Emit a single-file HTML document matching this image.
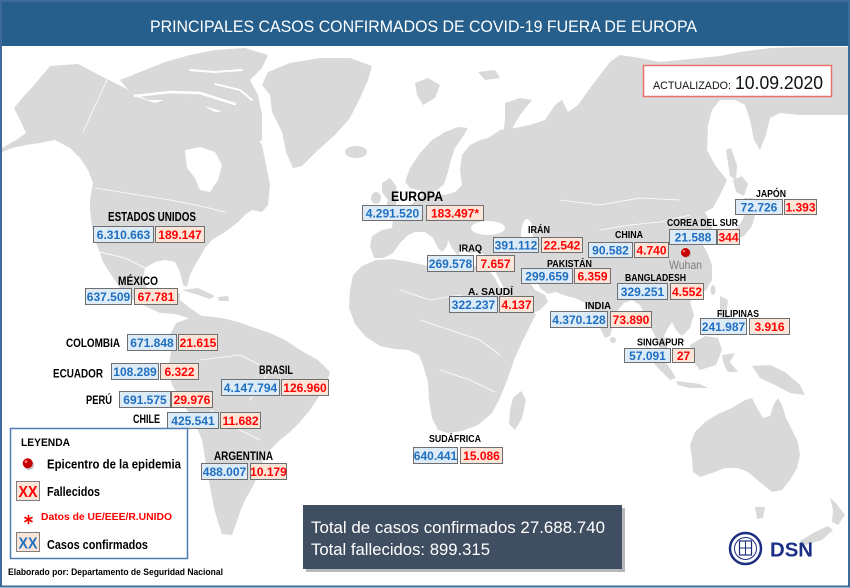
<!DOCTYPE html>
<html><head><meta charset="utf-8">
<style>
html,body{margin:0;padding:0;background:#fff;}
body{width:850px;height:588px;overflow:hidden;}
svg{display:block;}
.lbl{font-family:"Liberation Sans",Arial,sans-serif;font-weight:bold;fill:#000;}
.nb{font-family:"Liberation Sans",Arial,sans-serif;font-weight:bold;font-size:12px;fill:#1f6fc1;text-anchor:middle;}
.nr{font-family:"Liberation Sans",Arial,sans-serif;font-weight:bold;font-size:12px;fill:#ff0000;text-anchor:middle;}
.bb{fill:#ddebf7;stroke:#6f6f6f;stroke-width:1;}
.br{fill:#fbe5d9;stroke:#6f6f6f;stroke-width:1;}
.land{fill:#d9d9d9;}
.lg{font-family:"Liberation Sans",Arial,sans-serif;font-weight:bold;fill:#000;}
</style></head>
<body>
<svg width="850" height="588" viewBox="0 0 850 588" xmlns="http://www.w3.org/2000/svg">
<rect x="0" y="0" width="850" height="588" fill="#fff"/>

<!-- ============ MAP ============ -->
<g class="land">
<!-- North America -->
<path d="M50,66 L78,64 L105,78 L125,88 L140,98 L155,103 L170,98 L185,102 L200,104 L215,112 L228,112 L242,120 L252,132 L262,145 L266,165 L270,185 L268,205 L262,212 L252,210 L245,215 L238,222 L225,232 L212,240 L205,248 L200,257 L195,265 L190,275 L187,287 L183,285 L180,272 L175,262 L165,260 L155,262 L145,268 L143,278 L147,288 L158,296 L168,300 L172,293 L180,293 L180,300 L190,308 L200,315 L212,320 L210,326 L200,325 L188,318 L175,314 L160,313 L145,306 L133,300 L120,288 L110,273 L103,262 L100,253 L95,240 L92,227 L90,210 L90,200 L93,183 L88,170 L80,158 L70,148 L55,140 L40,143 L26,145 L12,148 L2,152 L2,148 L16,140 L26,133 L20,120 L14,108 L24,96 L35,84 Z"/>
<!-- Arctic archipelago -->
<path d="M120,80 L145,70 L165,62 L190,55 L215,50 L245,48 L268,55 L262,68 L250,80 L258,95 L262,115 L262,140 L255,145 L245,130 L232,118 L218,110 L200,105 L185,102 L165,100 L148,100 L130,92 Z"/>
<!-- Greenland -->
<path d="M268,72 L290,63 L320,58 L350,58 L372,66 L368,80 L360,98 L350,118 L335,135 L318,150 L302,166 L293,168 L286,152 L282,132 L272,112 L270,95 L262,85 Z"/>
<ellipse cx="356" cy="152" rx="11" ry="6"/>
<!-- Cuba etc -->
<path d="M182,290 L198,288 L215,296 L210,299 L195,294 Z"/>
<path d="M218,297 L228,296 L229,301 L219,301 Z"/>
<!-- South America -->
<path d="M176,323 L190,318 L205,316 L222,318 L238,322 L255,328 L270,333 L285,340 L300,350 L318,360 L330,372 L326,385 L318,398 L310,410 L300,422 L290,432 L280,440 L270,450 L262,462 L258,475 L252,488 L245,500 L240,512 L236,524 L232,535 L222,534 L218,522 L214,508 L211,492 L208,475 L205,458 L202,440 L197,428 L188,412 L180,398 L172,385 L168,372 L170,358 L172,345 L170,335 Z"/>
<!-- Svalbard, Novaya Zemlya -->
<path d="M415,83 L428,78 L440,85 L435,98 L423,105 L417,95 Z"/>
<path d="M505,103 L520,98 L532,100 L520,115 L510,132 L503,135 L505,120 Z"/>
<path d="M478,72 L495,70 L500,78 L485,80 Z"/>
<!-- UK / Ireland -->
<path d="M382,183 L390,178 L396,186 L398,198 L395,207 L385,210 L388,200 L382,192 Z"/>
<ellipse cx="376" cy="198" rx="5" ry="6"/>
<!-- Scandinavia -->
<path d="M405,182 L410,168 L420,153 L432,140 L445,132 L458,127 L468,128 L462,138 L455,148 L451,160 L448,172 L444,184 L436,191 L428,192 L418,190 L410,188 Z"/>
<!-- Eurasia -->
<path d="M420,198 L425,190 L432,195 L445,195 L455,192 L462,185 L460,170 L462,155 L470,145 L480,140 L488,138 L500,130 L515,128 L530,125 L545,120 L555,105 L562,100 L568,112 L578,105 L590,88 L600,75 L610,62 L620,55 L640,58 L660,62 L680,60 L700,58 L720,56 L740,52 L770,48 L800,47 L848,47 L848,115 L800,115 L780,113 L770,118 L766,135 L760,150 L754,140 L750,120 L745,105 L735,100 L720,100 L712,110 L708,125 L707,150 L715,165 L727,180 L720,195 L713,208 L705,212 L710,222 L714,235 L708,242 L702,232 L699,228 L700,240 L707,252 L712,265 L712,280 L706,290 L696,296 L690,302 L694,315 L690,328 L682,336 L676,330 L672,322 L668,328 L664,336 L668,350 L668,358 L662,356 L658,342 L652,330 L646,318 L640,305 L632,300 L624,303 L618,310 L614,322 L610,336 L605,338 L600,328 L593,315 L585,303 L575,298 L566,296 L556,292 L548,294 L540,288 L535,278 L528,280 L535,290 L545,295 L548,302 L540,310 L525,316 L518,318 L512,305 L505,290 L497,275 L490,265 L488,256 L478,252 L468,253 L462,247 L458,256 L452,248 L448,240 L447,246 L442,252 L438,248 L433,238 L425,232 L415,232 L408,235 L400,243 L393,253 L384,258 L374,258 L370,246 L372,236 L382,230 L392,228 L393,218 L400,210 L410,205 Z"/>
<!-- Africa -->
<path d="M350,290 L353,275 L362,266 L376,260 L392,259 L410,262 L428,266 L445,268 L462,266 L478,266 L487,268 L495,278 L502,292 L509,303 L517,312 L530,312 L536,314 L530,326 L522,342 L514,360 L508,378 L500,398 L492,413 L478,425 L462,431 L448,433 L438,430 L432,418 L429,400 L428,382 L423,365 L419,355 L408,350 L395,349 L380,346 L366,337 L355,324 L349,308 Z"/>
<path d="M513,398 L521,391 L526,400 L522,418 L515,430 L509,424 L510,410 Z"/>
<!-- Asia islands -->
<circle cx="613" cy="340" r="3"/>
<path d="M645,345 L655,352 L668,365 L676,378 L670,380 L658,368 L648,356 Z"/>
<path d="M676,381 L700,384 L708,388 L690,388 L678,385 Z"/>
<path d="M690,345 L705,336 L718,338 L722,350 L716,365 L700,370 L692,360 Z"/>
<path d="M722,355 L735,353 L730,362 L738,372 L728,372 L724,365 Z"/>
<path d="M720,296 L728,300 L726,315 L735,325 L738,335 L728,333 L720,318 Z"/>
<path d="M752,366 L770,365 L785,372 L800,385 L805,395 L790,393 L775,385 L760,378 Z"/>
<ellipse cx="713" cy="290" rx="2.5" ry="5"/>
<path d="M733,180 L742,176 L748,184 L744,196 L736,192 Z"/>
<path d="M744,198 L752,198 L756,212 L752,226 L744,236 L734,240 L730,234 L740,224 L746,212 Z"/>
<path d="M726,150 L731,148 L737,165 L736,180 L730,176 Z"/>
<!-- Australia -->
<path d="M690,445 L695,432 L705,422 L718,414 L732,408 L745,400 L752,398 L757,408 L763,418 L770,416 L774,404 L778,398 L782,405 L786,418 L792,430 L798,442 L800,455 L797,468 L790,480 L782,490 L772,492 L762,484 L755,478 L748,472 L738,468 L725,468 L712,473 L700,477 L693,472 L692,458 Z"/>
<path d="M755,507 L765,507 L763,518 L757,519 Z"/>
<path d="M830,498 L836,503 L845,515 L838,525 L832,522 L833,510 Z"/>
<path d="M828,526 L833,530 L822,540 L805,545 L800,541 L815,532 Z"/>
</g>
<!-- water bodies / channels -->
<g fill="#fff">
<path d="M185,150 L200,147 L215,152 L222,165 L218,180 L210,192 L200,190 L195,178 L187,168 Z"/>
<ellipse cx="488" cy="228" rx="17" ry="7"/>
<ellipse cx="527" cy="235" rx="6" ry="16"/>
</g>
<g stroke="#fff" fill="none" stroke-linecap="round">
<path d="M135,96 L170,92 L200,93 L235,104" stroke-width="2.5"/>
<path d="M190,70 L215,72 L242,70" stroke-width="2"/>
<path d="M215,84 L240,90 L252,100" stroke-width="1.8"/>
<path d="M488,258 L500,285 L513,309" stroke-width="2"/>
<g stroke-width="0.8">
<path d="M107,80 L83,132"/>
<path d="M95,188 L170,200 L205,207 L225,212"/>
<path d="M100,252 L125,258 L145,268"/>
<path d="M600,230 L630,225 L660,222 L690,215"/>
<path d="M560,200 L600,205 L640,198 L680,200"/>
<path d="M400,290 L430,300 L460,295 L480,310"/>
<path d="M420,320 L450,330 L480,340 L500,355"/>
<path d="M440,370 L470,380 L495,392"/>
<path d="M200,360 L240,355 L270,370 L250,400"/>
<path d="M210,410 L240,430 L260,440"/>
</g>
</g>

<!-- ============ TITLE ============ -->
<rect x="0" y="0" width="850" height="46" fill="#265f8b"/>
<text x="150" y="32" textLength="547" lengthAdjust="spacingAndGlyphs" font-family="'Liberation Sans',Arial,sans-serif" font-size="17" fill="#fff">PRINCIPALES CASOS CONFIRMADOS DE COVID-19 FUERA DE EUROPA</text>

<!-- frame -->
<rect x="1" y="1" width="848" height="585.5" fill="none" stroke="#3d6b97" stroke-width="2"/>

<!-- ACTUALIZADO -->
<rect x="643.5" y="65.5" width="188" height="31" fill="#fff" stroke="#e8726a" stroke-width="1.5"/>
<text x="653" y="89" textLength="78" lengthAdjust="spacingAndGlyphs" font-family="'Liberation Sans',Arial,sans-serif" font-size="11" fill="#111">ACTUALIZADO:</text>
<text x="735" y="89" textLength="88" lengthAdjust="spacingAndGlyphs" font-family="'Liberation Sans',Arial,sans-serif" font-size="18" fill="#111">10.09.2020</text>

<!-- ============ LABELS ============ -->
<g class="lbl">
<text x="108" y="221" font-size="12.5" textLength="88" lengthAdjust="spacingAndGlyphs">ESTADOS UNIDOS</text>
<text x="118" y="285" font-size="11.5" textLength="40" lengthAdjust="spacingAndGlyphs">MÉXICO</text>
<text x="66" y="347" font-size="11.5" textLength="54" lengthAdjust="spacingAndGlyphs">COLOMBIA</text>
<text x="53" y="377.5" font-size="11.5" textLength="50" lengthAdjust="spacingAndGlyphs">ECUADOR</text>
<text x="259" y="374" font-size="11.5" textLength="34" lengthAdjust="spacingAndGlyphs">BRASIL</text>
<text x="86" y="404" font-size="11.5" textLength="26" lengthAdjust="spacingAndGlyphs">PERÚ</text>
<text x="133" y="423" font-size="11.5" textLength="27" lengthAdjust="spacingAndGlyphs">CHILE</text>
<text x="214" y="460" font-size="11.5" textLength="59" lengthAdjust="spacingAndGlyphs">ARGENTINA</text>
<text x="429" y="442" font-size="10.5" textLength="52" lengthAdjust="spacingAndGlyphs">SUDÁFRICA</text>
<text x="391" y="201" font-size="14" textLength="52" lengthAdjust="spacingAndGlyphs">EUROPA</text>
<text x="528" y="233" font-size="10.5" textLength="22" lengthAdjust="spacingAndGlyphs">IRÁN</text>
<text x="459" y="251.5" font-size="10.5" textLength="23" lengthAdjust="spacingAndGlyphs">IRAQ</text>
<text x="547" y="267" font-size="10.5" textLength="45" lengthAdjust="spacingAndGlyphs">PAKISTÁN</text>
<text x="468" y="295" font-size="10.5" textLength="45" lengthAdjust="spacingAndGlyphs">A. SAUDÍ</text>
<text x="615" y="238" font-size="10.5" textLength="28" lengthAdjust="spacingAndGlyphs">CHINA</text>
<text x="667" y="226" font-size="10.5" textLength="71" lengthAdjust="spacingAndGlyphs">COREA DEL SUR</text>
<text x="625" y="281" font-size="10.5" textLength="61" lengthAdjust="spacingAndGlyphs">BANGLADESH</text>
<text x="585" y="309" font-size="10.5" textLength="26" lengthAdjust="spacingAndGlyphs">INDIA</text>
<text x="717" y="317" font-size="10.5" textLength="42" lengthAdjust="spacingAndGlyphs">FILIPINAS</text>
<text x="637" y="345.5" font-size="10.5" textLength="47" lengthAdjust="spacingAndGlyphs">SINGAPUR</text>
<text x="756" y="197" font-size="10.5" textLength="30" lengthAdjust="spacingAndGlyphs">JAPÓN</text>
</g>

<!-- ============ BOXES ============ -->
<g>
<!-- US -->
<rect class="bb" x="93.5" y="226.5" width="60" height="16"/><text class="nb" x="123.5" y="239">6.310.663</text>
<rect class="br" x="155.5" y="226.5" width="49" height="16"/><text class="nr" x="180" y="239">189.147</text>
<!-- MX -->
<rect class="bb" x="85.5" y="288.5" width="46" height="16"/><text class="nb" x="108.5" y="301">637.509</text>
<rect class="br" x="134.5" y="288.5" width="43" height="16"/><text class="nr" x="156" y="301">67.781</text>
<!-- CO -->
<rect class="bb" x="127.5" y="334.5" width="49" height="16"/><text class="nb" x="152" y="347">671.848</text>
<rect class="br" x="178.5" y="334.5" width="39" height="16"/><text class="nr" x="198" y="347">21.615</text>
<!-- EC -->
<rect class="bb" x="111.5" y="363.5" width="47" height="16"/><text class="nb" x="135" y="376">108.289</text>
<rect class="br" x="160.5" y="363.5" width="38" height="16"/><text class="nr" x="179.5" y="376">6.322</text>
<!-- BR -->
<rect class="bb" x="221.5" y="379.5" width="58" height="16"/><text class="nb" x="250.5" y="392">4.147.794</text>
<rect class="br" x="281.5" y="379.5" width="47" height="16"/><text class="nr" x="305" y="392">126.960</text>
<!-- PE -->
<rect class="bb" x="119.5" y="391.5" width="51" height="16"/><text class="nb" x="145" y="404">691.575</text>
<rect class="br" x="171.5" y="391.5" width="41" height="16"/><text class="nr" x="192" y="404">29.976</text>
<!-- CL -->
<rect class="bb" x="167.5" y="412.5" width="51" height="16"/><text class="nb" x="193" y="425">425.541</text>
<rect class="br" x="220.5" y="412.5" width="40" height="16"/><text class="nr" x="240.5" y="425">11.682</text>
<!-- AR -->
<rect class="bb" x="201.5" y="463.5" width="46" height="16"/><text class="nb" x="224.5" y="476">488.007</text>
<rect class="br" x="250.5" y="463.5" width="36" height="16"/><text class="nr" x="268.5" y="476">10.179</text>
<!-- ZA -->
<rect class="bb" x="413.5" y="447.5" width="44" height="16"/><text class="nb" x="435.5" y="460">640.441</text>
<rect class="br" x="460.5" y="447.5" width="42" height="16"/><text class="nr" x="481.5" y="460">15.086</text>
<!-- EU -->
<rect class="bb" x="362.5" y="205.5" width="60" height="15"/><text class="nb" x="392.5" y="217.5">4.291.520</text>
<rect class="br" x="426.5" y="205.5" width="57" height="15"/><text class="nr" x="455" y="217.5">183.497*</text>
<!-- IR -->
<rect class="bb" x="493.5" y="237.5" width="45" height="15"/><text class="nb" x="516" y="249.5">391.112</text>
<rect class="br" x="541.5" y="237.5" width="41" height="15"/><text class="nr" x="562" y="249.5">22.542</text>
<!-- IQ -->
<rect class="bb" x="427.5" y="255.5" width="46" height="16"/><text class="nb" x="450.5" y="268">269.578</text>
<rect class="br" x="476.5" y="255.5" width="38" height="16"/><text class="nr" x="495.5" y="268">7.657</text>
<!-- PK -->
<rect class="bb" x="521.5" y="268.5" width="51" height="15"/><text class="nb" x="547" y="280.5">299.659</text>
<rect class="br" x="574.5" y="268.5" width="36" height="15"/><text class="nr" x="592.5" y="280.5">6.359</text>
<!-- SA -->
<rect class="bb" x="449.5" y="296.5" width="48" height="16"/><text class="nb" x="473.5" y="309">322.237</text>
<rect class="br" x="499.5" y="296.5" width="34" height="16"/><text class="nr" x="516.5" y="309">4.137</text>
<!-- CN -->
<rect class="bb" x="588.5" y="242.5" width="44" height="15"/><text class="nb" x="610.5" y="254.5">90.582</text>
<rect class="br" x="634.5" y="242.5" width="34" height="15"/><text class="nr" x="651.5" y="254.5">4.740</text>
<!-- KR -->
<rect class="bb" x="669.5" y="229.5" width="47" height="15"/><text class="nb" x="693" y="241.5">21.588</text>
<rect class="br" x="717.5" y="229.5" width="22" height="15"/><text class="nr" x="728.5" y="241.5">344</text>
<!-- BD -->
<rect class="bb" x="617.5" y="283.5" width="50" height="16"/><text class="nb" x="642.5" y="296">329.251</text>
<rect class="br" x="670.5" y="283.5" width="33" height="16"/><text class="nr" x="687" y="296">4.552</text>
<!-- IN -->
<rect class="bb" x="550.5" y="311.5" width="57" height="16"/><text class="nb" x="579" y="324">4.370.128</text>
<rect class="br" x="610.5" y="311.5" width="41" height="16"/><text class="nr" x="631" y="324">73.890</text>
<!-- PH -->
<rect class="bb" x="700.5" y="318.5" width="46" height="16"/><text class="nb" x="723.5" y="331">241.987</text>
<rect class="br" x="749.5" y="318.5" width="40" height="16"/><text class="nr" x="769.5" y="331">3.916</text>
<!-- SG -->
<rect class="bb" x="624.5" y="348.5" width="46" height="14"/><text class="nb" x="647.5" y="360">57.091</text>
<rect class="br" x="672.5" y="348.5" width="22" height="14"/><text class="nr" x="683.5" y="360">27</text>
<!-- JP -->
<rect class="bb" x="735.5" y="199.5" width="47" height="15"/><text class="nb" x="759" y="211.5">72.726</text>
<rect class="br" x="784.5" y="199.5" width="32" height="15"/><text class="nr" x="800.5" y="211.5">1.393</text>
</g>

<!-- Wuhan -->
<circle cx="686.5" cy="253.5" r="4.5" fill="#9a9a9a" opacity="0.6"/>
<circle cx="685.5" cy="252.5" r="4.5" fill="#c40000"/>
<circle cx="684" cy="251" r="1.3" fill="#ff6a6a"/>
<text x="669" y="269" textLength="33" lengthAdjust="spacingAndGlyphs" font-family="'Liberation Sans',Arial,sans-serif" font-size="12" fill="#7f7f7f">Wuhan</text>

<!-- ============ LEGEND ============ -->
<rect x="10.5" y="428.5" width="177" height="130" fill="#fff" stroke="#4e7db3" stroke-width="1.5"/>
<text class="lg" x="21" y="446" font-size="11" textLength="49" lengthAdjust="spacingAndGlyphs">LEYENDA</text>
<circle cx="29" cy="465" r="5" fill="#9a9a9a" opacity="0.6"/>
<circle cx="27.7" cy="463.3" r="5" fill="#c40000"/>
<circle cx="26" cy="461.6" r="1.5" fill="#ff6a6a"/>
<text class="lg" x="47" y="468.5" font-size="12.5" textLength="134" lengthAdjust="spacingAndGlyphs">Epicentro de la epidemia</text>
<rect x="16.5" y="481.5" width="23" height="19" fill="#fbe5d9" stroke="#7f7f7f" stroke-width="1"/>
<text x="28" y="497" text-anchor="middle" textLength="19" lengthAdjust="spacingAndGlyphs" font-family="'Liberation Sans',Arial,sans-serif" font-weight="bold" font-size="16" fill="#ff0000">XX</text>
<text class="lg" x="47" y="496" font-size="12.5" textLength="53" lengthAdjust="spacingAndGlyphs">Fallecidos</text>
<g stroke="#ff0000" stroke-width="1.6" stroke-linecap="round">
<line x1="28.5" y1="515.5" x2="28.5" y2="523.5"/>
<line x1="25" y1="517.5" x2="32" y2="521.5"/>
<line x1="25" y1="521.5" x2="32" y2="517.5"/>
</g>
<text x="41" y="520" textLength="131" lengthAdjust="spacingAndGlyphs" font-family="'Liberation Sans',Arial,sans-serif" font-weight="bold" font-size="10.5" fill="#ff0000">Datos de UE/EEE/R.UNIDO</text>
<rect x="16.5" y="532.5" width="23" height="19" fill="#fbe5d9" stroke="#7f7f7f" stroke-width="1"/>
<text x="28" y="548.5" text-anchor="middle" textLength="19" lengthAdjust="spacingAndGlyphs" font-family="'Liberation Sans',Arial,sans-serif" font-weight="bold" font-size="16" fill="#1f6fc1">XX</text>
<text class="lg" x="47" y="549" font-size="12.5" textLength="101" lengthAdjust="spacingAndGlyphs">Casos confirmados</text>
<text class="lg" x="8" y="575" font-size="9" textLength="215" lengthAdjust="spacingAndGlyphs">Elaborado por: Departamento de Seguridad Nacional</text>

<!-- ============ TOTALS ============ -->
<rect x="306" y="508" width="319" height="64" fill="#9a9a9a" opacity="0.7"/>
<rect x="303" y="505" width="319" height="64" fill="#3f4e60"/>
<text x="311" y="533" textLength="294" lengthAdjust="spacingAndGlyphs" font-family="'Liberation Sans',Arial,sans-serif" font-size="16.8" fill="#fff">Total de casos confirmados 27.688.740</text>
<text x="311" y="555" textLength="179" lengthAdjust="spacingAndGlyphs" font-family="'Liberation Sans',Arial,sans-serif" font-size="16.8" fill="#fff">Total fallecidos: 899.315</text>

<!-- ============ DSN LOGO ============ -->
<circle cx="745.5" cy="548.5" r="15.5" fill="#fff" stroke="#1c2e80" stroke-width="2.5"/>
<circle cx="745.5" cy="548.5" r="11" fill="none" stroke="#1c2e80" stroke-width="1"/>
<rect x="739.5" y="541" width="12" height="14" fill="none" stroke="#1c2e80" stroke-width="1.2"/>
<line x1="745.5" y1="541" x2="745.5" y2="555" stroke="#1c2e80" stroke-width="1"/>
<line x1="739.5" y1="548" x2="751.5" y2="548" stroke="#1c2e80" stroke-width="1"/>
<text x="770" y="556.5" textLength="43" lengthAdjust="spacingAndGlyphs" font-family="'Liberation Sans',Arial,sans-serif" font-weight="bold" font-size="20" fill="#1c2f85">DSN</text>
</svg>
</body></html>
